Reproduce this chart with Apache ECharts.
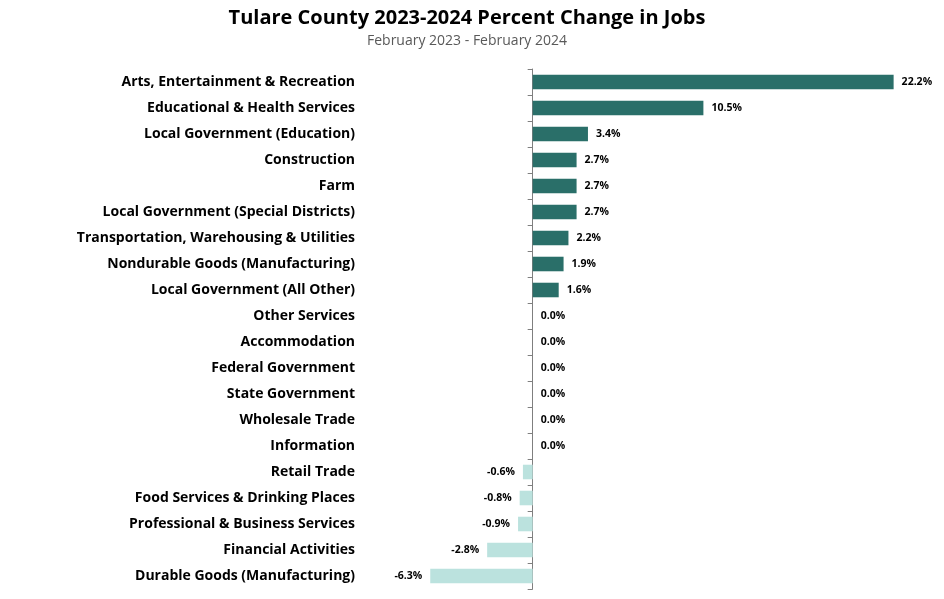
<!DOCTYPE html>
<html><head><meta charset="utf-8">
<script src="https://cdn.jsdelivr.net/npm/echarts@6/dist/echarts.min.js"></script>
<style>html,body{margin:0;padding:0;background:#fff}#c{width:944px;height:599px}</style>
</head><body><div id="c"></div>
<script>
const categories = ["Arts, Entertainment & Recreation","Educational & Health Services","Local Government (Education)","Construction","Farm","Local Government (Special Districts)","Transportation, Warehousing & Utilities","Nondurable Goods (Manufacturing)","Local Government (All Other)","Other Services","Accommodation","Federal Government","State Government","Wholesale Trade","Information","Retail Trade","Food Services & Drinking Places","Professional & Business Services","Financial Activities","Durable Goods (Manufacturing)"];
const values = [22.2,10.5,3.4,2.7,2.7,2.7,2.2,1.9,1.6,0.0,0.0,0.0,0.0,0.0,0.0,-0.6,-0.8,-0.9,-2.8,-6.3];
const titleText = "Tulare County 2023-2024 Percent Change in Jobs";
const subtitleText = "February 2023 - February 2024";
const FONT = "'Open Sans', sans-serif";
const chart = echarts.init(document.getElementById('c'));
chart.setOption({
  animation:false,
  title:{text:titleText, subtext:subtitleText, left:462, textAlign:'center', top:3, itemGap:6,
    textStyle:{fontFamily:FONT, fontSize:20, fontWeight:'bold', color:'#000'},
    subtextStyle:{fontFamily:FONT, fontSize:14, color:'#595959'}},
  grid:{left:427, width:471.5, top:69, height:520, containLabel:false, outerBoundsMode:'none'},
  xAxis:{type:'value', min:-6.5, max:22.5, show:false},
  yAxis:{type:'category', data:categories, inverse:true,
    axisLine:{onZero:true, lineStyle:{color:'#7f7f7f', width:1}},
    axisTick:{show:true, inside:false, length:5, lineStyle:{color:'#7f7f7f'}},
    axisLabel:{margin:72, fontFamily:FONT, fontSize:14, fontWeight:'bold', color:'#000'}},
  series:[{type:'bar', barCategoryGap:'44%',
    data:values.map(v=>({value:v, itemStyle:{color: v<0 ? '#BBE2DE' : '#2A6F69'},
      label:{position: v<0 ? 'left':'right'}})),
    label:{show:true, fontFamily:FONT, fontSize:10.5, fontWeight:'bold', color:'#000', distance:8,
      formatter:p=>p.value.toFixed(1)+'%'}}]
});
</script></body></html>
